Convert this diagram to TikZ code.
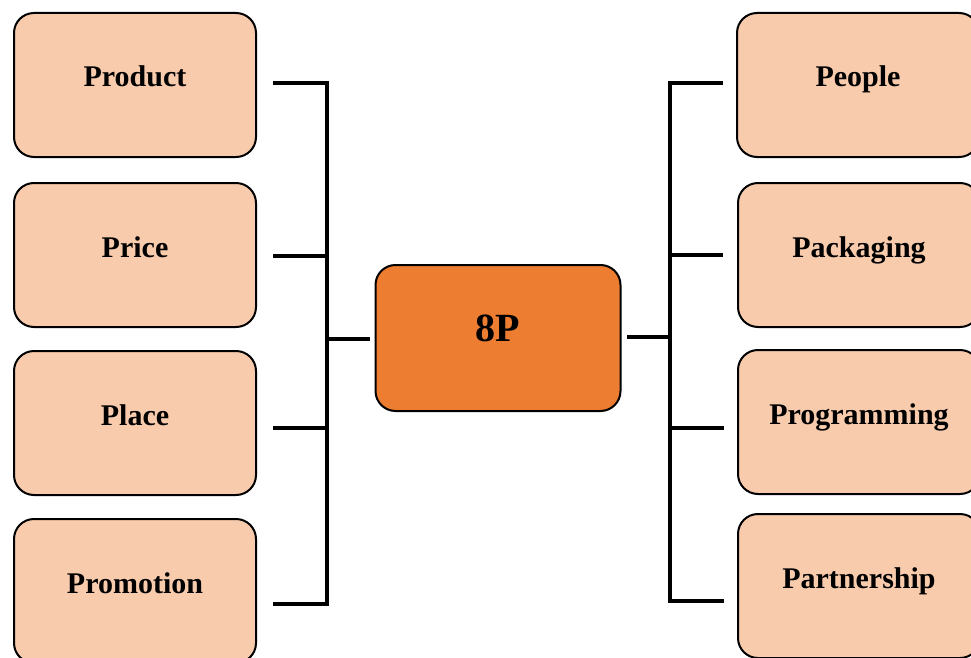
\documentclass[tikz,border=0pt]{standalone}
\usepackage{fontspec}
\setmainfont{Liberation Serif}
\definecolor{peach}{HTML}{F8CBAD}
\definecolor{coral}{HTML}{ED7D31}
\begin{document}
\begin{tikzpicture}[x=1pt,y=-1pt]
        \useasboundingbox (0,0) rectangle (971,658);
        \clip (0,0) rectangle (971,658);
        % boxes
        \begin{scope}[every node/.style={draw=black,line width=2pt,rounded corners=20pt,fill=peach,minimum width=242pt,minimum height=144pt}]
            \node (product) at (135,85) {};
            \node (price) at (135,255) {};
            \node (place) at (135,423) {};
            \node (promotion) at (135,591) {};
            \node (people) at (858,85) {};
            \node (packaging) at (859,255) {};
            \node (programming) at (859,422) {};
            \node (partnership) at (859,586) {};
            \node[fill=coral,minimum width=245pt,minimum height=146pt] (core) at (498,338) {};
        \end{scope}
        % labels
        \begin{scope}[every node/.style={anchor=base,inner sep=0pt,font=\bfseries\fontsize{30}{35}\selectfont}]
            \node (product-t) at ([yshift=-2pt]product.center) {Product};
            \node (price-t) at ([yshift=-2pt]price.center) {Price};
            \node (place-t) at ([yshift=-2pt]place.center) {Place};
            \node (promotion-t) at ([yshift=-2pt]promotion.center) {Promotion};
            \node (people-t) at ([yshift=-2pt]people.center) {People};
            \node (packaging-t) at ([yshift=-2pt]packaging.center) {Packaging};
            \node (programming-t) at ([yshift=-2pt]programming.center) {Programming};
            \node (partnership-t) at ([yshift=-2pt]partnership.center) {Partnership};
            \node[font=\bfseries\fontsize{40}{46}\selectfont] (core-t) at ([yshift=-3pt]core.center) {8P};
        \end{scope}
        % spine points
        \coordinate (l1) at (327,83);
        \coordinate (l2) at (327,256);
        \coordinate (l3) at (327,428);
        \coordinate (l4) at (327,604);
        \coordinate (lc) at (327,339);
        \coordinate (r1) at (670,83);
        \coordinate (r2) at (670,255);
        \coordinate (r3) at (670,428);
        \coordinate (r4) at (670,601);
        \coordinate (rc) at (670,337);
        \begin{scope}[every edge/.style={draw,line width=3.5pt,line cap=rect}]
            \path
                (l1) edge (l4)
                (r1) edge (r4);
        \end{scope}
        \begin{scope}[every edge/.style={draw,line width=3.5pt}]
            \path
                (l1 -| product.east) edge[shorten <=16pt] (l1)
                (l2 -| price.east) edge[shorten <=16pt] (l2)
                (l3 -| place.east) edge[shorten <=16pt] (l3)
                (l4 -| promotion.east) edge[shorten <=16pt] (l4)
                (lc) edge[shorten >=5pt] (lc -| core.west);
            \path
                (r1 -| people.west) edge[shorten <=13pt] (r1)
                (r2 -| packaging.west) edge[shorten <=14pt] (r2)
                (r3 -| programming.west) edge[shorten <=13pt] (r3)
                (r4 -| partnership.west) edge[shorten <=13pt] (r4)
                (rc) edge[shorten >=5pt] (rc -| core.east);
        \end{scope}
\end{tikzpicture}
\end{document}
